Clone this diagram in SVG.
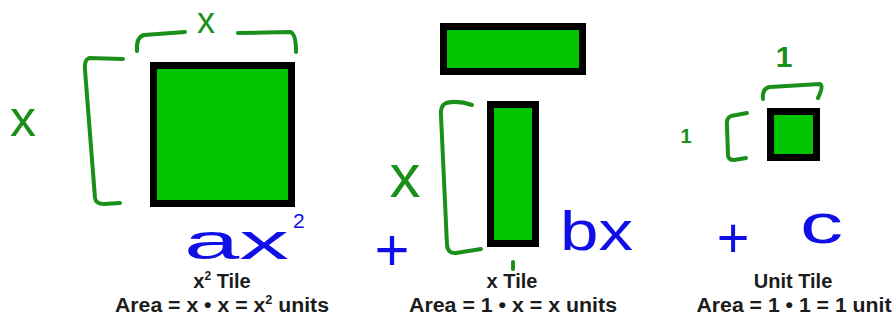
<svg xmlns="http://www.w3.org/2000/svg" width="894" height="320" viewBox="0 0 894 320">
<style>
.tile{fill:#00c400;stroke:#000;stroke-width:7}
.pen{fill:none;stroke:#1a8f1a;stroke-width:4;stroke-linecap:round;stroke-linejoin:round}
.cap{font-family:"Liberation Sans",Arial,sans-serif;font-weight:bold;font-size:20px;fill:#1c1c1c;text-anchor:middle}
.hg{font-family:"Liberation Sans",Arial,sans-serif;fill:#1a8f1a;text-anchor:middle}
.hb{font-family:"Liberation Sans",Arial,sans-serif;fill:#1010e6}
</style>
<rect width="894" height="320" fill="#fff"/>

<g id="tile-x2">
  <rect class="tile" x="153.5" y="65.5" width="138" height="138"/>
  <path class="pen" d="M137,51 Q136,37 144,35 L185,32"/>
  <path class="pen" d="M238,33 L290,32 Q296,33 296,52"/>
  <path class="pen" d="M123,59 L89,58 Q84,60 85,70 L95,198 Q96,204 104,204 L120,203"/>
  <text class="hg" x="206" y="33" font-size="36">x</text>
  <text class="hg" x="23" y="136" font-size="52">x</text>
  <text class="hb" x="184" y="259" font-size="50" textLength="105" lengthAdjust="spacingAndGlyphs">ax</text>
  <text class="hb" x="293" y="228" font-size="21">2</text>
  <text class="cap" x="222" y="288">x<tspan font-size="12" dy="-8">2</tspan><tspan dy="8"> Tile</tspan></text>
  <text class="cap" x="222" y="312" textLength="214" lengthAdjust="spacingAndGlyphs">Area = x • x = x<tspan font-size="12" dy="-8">2</tspan><tspan dy="8"> units</tspan></text>
</g>

<g id="tile-x">
  <rect class="tile" x="443.5" y="26.5" width="139" height="45"/>
  <rect class="tile" x="490.5" y="104.5" width="45" height="139"/>
  <path class="pen" d="M472,105 Q458,100 446,103 Q440,106 441,116 L447,245 Q448,254 456,253 L481,249"/>
  <path class="pen" d="M513,262 L513,269" stroke-width="5"/>
  <text class="hg" x="405" y="197" font-size="62">x</text>
  <text class="hb" x="392" y="270" font-size="60" text-anchor="middle">+</text>
  <text class="hb" x="560" y="250" font-size="56" textLength="73" lengthAdjust="spacingAndGlyphs">bx</text>
  <text class="cap" x="512" y="288">x Tile</text>
  <text class="cap" x="513" y="312" textLength="208" lengthAdjust="spacingAndGlyphs">Area = 1 • x = x units</text>
</g>

<g id="tile-unit">
  <rect class="tile" x="770.5" y="111.5" width="46" height="46"/>
  <path class="pen" d="M763,99 Q762,88 770,87 L820,84 Q824,86 818,98"/>
  <path class="pen" d="M747,113 L731,116 Q726,118 727,126 L728,156 Q729,160 734,160 L746,158"/>
  <text class="hg" x="784" y="67" font-size="30" font-weight="bold">1</text>
  <text class="hg" x="686" y="143" font-size="20" font-weight="bold">1</text>
  <text class="hb" x="733" y="257" font-size="56" text-anchor="middle">+</text>
  <text class="hb" x="800" y="243" font-size="56" textLength="43" lengthAdjust="spacingAndGlyphs">c</text>
  <text class="cap" x="793" y="288">Unit Tile</text>
  <text class="cap" x="794" y="312" textLength="195" lengthAdjust="spacingAndGlyphs">Area = 1 • 1 = 1 unit</text>
</g>
</svg>
